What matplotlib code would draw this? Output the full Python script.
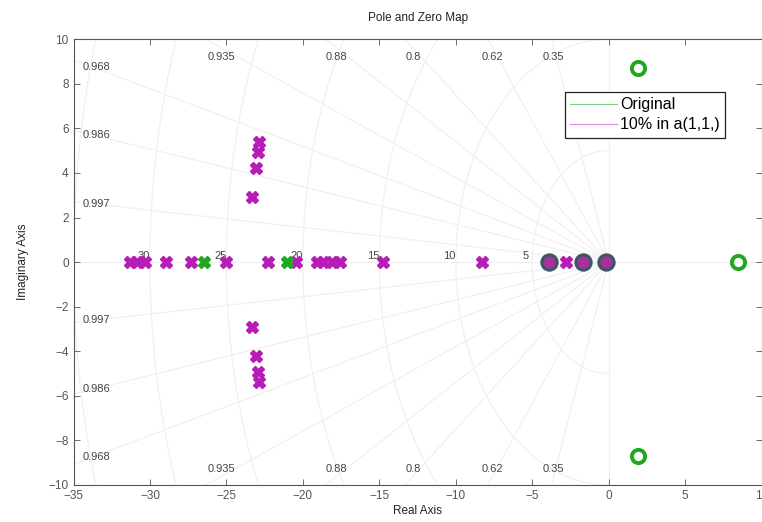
import numpy as np
import matplotlib
matplotlib.use('Agg')
import matplotlib.pyplot as plt
from matplotlib.lines import Line2D

plt.rcParams['font.family'] = ['Liberation Sans', 'DejaVu Sans']

# original system
orig_pole_re = [-26.5, -21.05]
orig_pole_im = [0.0, 0.0]
orig_zero_re = [1.9, 1.9, 8.45]
orig_zero_im = [8.7, -8.7, 0.0]

# zeros shared by both systems
shared_zero_re = [-3.9, -1.68, -0.2]
shared_zero_im = [0.0, 0.0, 0.0]

# 10% change in a(1,1)
mod_pole_re = [-31.3, -30.87, -30.3, -28.95, -27.3, -25.0, -22.3, -20.46,
               -19.1, -18.67, -18.12, -17.58, -14.75, -8.3, -2.8,
               -23.35, -23.35, -23.07, -23.07, -22.92, -22.92, -22.9, -22.9]
mod_pole_im = [0, 0, 0, 0, 0, 0, 0, 0, 0, 0, 0, 0, 0, 0, 0,
               2.93, -2.93, 4.2, -4.2, 4.95, -4.95, 5.4, -5.4]

# grid
zetas = [0.35, 0.62, 0.8, 0.88, 0.935, 0.968, 0.986, 0.997]
wns = [5, 10, 15, 20, 25, 30, 35]

xlim = (-35, 10)
ylim = (-10, 10)

fig = plt.figure(figsize=(7.62, 5.22), dpi=100)
ax = fig.add_axes([0.0965, 0.0709, 0.903, 0.854])

gc = '#efefef'
ax.axhline(0, color=gc, lw=0.8, zorder=0)
ax.axvline(0, color=gc, lw=0.8, zorder=0)
for z in zetas:
    phi = np.arccos(z)
    r = np.array([0, 100])
    ax.plot(-r * np.cos(phi), r * np.sin(phi), color=gc, lw=0.8, zorder=0)
    ax.plot(-r * np.cos(phi), -r * np.sin(phi), color=gc, lw=0.8, zorder=0)
    slope = np.tan(phi)
    if 10 / slope < 35:
        xt = -9.6 / slope
        ax.text(xt, 9.2, str(z), ha='center', va='center', fontsize=8, color='#444444')
        ax.text(xt, -9.3, str(z), ha='center', va='center', fontsize=8, color='#444444')
    else:
        yt = 33.7 * slope
        ax.text(-34.4, yt, str(z), ha='left', va='center', fontsize=8, color='#444444')
        ax.text(-34.4, -yt, str(z), ha='left', va='center', fontsize=8, color='#444444')

th = np.linspace(np.pi / 2, 3 * np.pi / 2, 300)
for w in wns:
    ax.plot(w * np.cos(th), w * np.sin(th), color=gc, lw=0.8, zorder=0)
    if w < 35:
        ax.text(-w - 0.4, 0.05, str(w), ha='center', va='bottom', fontsize=8, color='#444444')

green = '#1fa81f'
mag = '#b81cb8'

ax.plot(mod_pole_re, mod_pole_im, ls='none', marker='X', ms=8, color=mag,
        mec=mag, zorder=3)
ax.plot(orig_pole_re, orig_pole_im, ls='none', marker='X', ms=8, color=green,
        mec=green, zorder=4)
ax.plot(orig_zero_re, orig_zero_im, ls='none', marker='o', ms=9.5, mfc='none',
        mec=green, mew=2.8, zorder=4)
ax.plot(shared_zero_re, shared_zero_im, ls='none', marker='o', ms=11, mfc='#a8309a',
        mec='#3d5666', mew=2.2, zorder=4)

ax.set_xlim(xlim)
ax.set_ylim(ylim)
ax.set_xticks(np.arange(-35, 11, 5))
ax.set_yticks(np.arange(-10, 11, 2))
ax.tick_params(direction='in', top=True, right=True, labelsize=8.5,
               labelcolor='#555555', color='#555555', length=4, width=0.6)
for s in ax.spines.values():
    s.set_color('#555555')
    s.set_linewidth(0.8)

ax.set_title('Pole and Zero Map', fontsize=8.5, color='#222222', pad=13)
ax.set_xlabel('Real Axis', fontsize=8.5, color='#222222', labelpad=2)
ax.set_ylabel('Imaginary Axis', fontsize=8.5, color='#222222', labelpad=14)

handles = [Line2D([], [], color='#7fcf7f', lw=0.8),
           Line2D([], [], color='#d98bd9', lw=0.8)]
leg = ax.legend(handles, ['Original', '10% in a(1,1,)'], loc='upper left',
                bbox_to_anchor=(0.714, 0.882), fontsize=11.5, fancybox=False,
                framealpha=1, edgecolor='#222222', handlelength=2.9,
                borderpad=0.35, labelspacing=0.3, handletextpad=0.2,
                borderaxespad=0)
leg.get_frame().set_linewidth(0.9)

plt.savefig('out.png', dpi=100)
